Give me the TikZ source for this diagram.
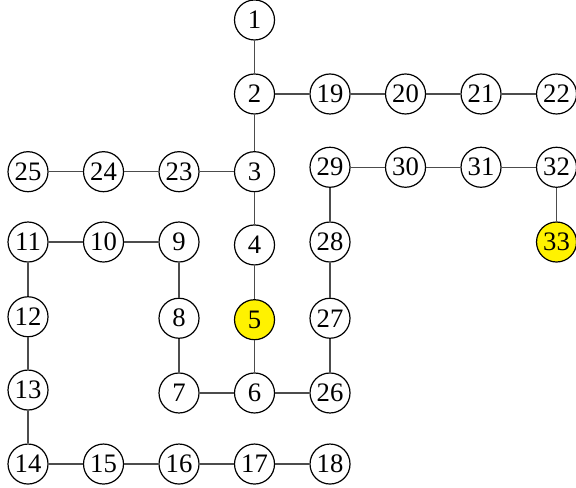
\documentclass[tikz,border=0pt]{standalone}
\usepackage{fontspec}
\setmainfont{Liberation Serif}
\usepackage{tikz}
\usetikzlibrary{calc}
\usetikzlibrary{shapes}
\newcommand{\gvertex}[4]{\node[shape=circle,draw=black,fill=#4,line width=0.45pt,inner sep=0pt,minimum size=15pt] (n#1) at ( #2 , #3 ) {#1};}
\newcommand{\gedge}[2]{\draw[black!70,line width=0.45pt] (n#1) -- (n#2);}

\begin{document}
\begin{tikzpicture}[x=28.31pt,y=-27.75pt]
\useasboundingbox (-0.371,-0.270) rectangle (7.258,6.311);
% column 3, top to bottom
\gvertex{1}{3}{0}{white}
\gvertex{2}{3}{1}{white}
\gvertex{3}{3}{2.05}{white}
\gvertex{4}{3}{3.04}{white}
\gvertex{5}{3}{4.05}{yellow}
\gvertex{6}{3}{5.04}{white}
% left loop
\gvertex{7}{2}{5.04}{white}
\gvertex{8}{2}{4.03}{white}
\gvertex{9}{2}{3}{white}
\gvertex{10}{1}{3}{white}
\gvertex{11}{0}{3}{white}
\gvertex{12}{0}{4.01}{white}
\gvertex{13}{0}{5}{white}
% bottom row
\gvertex{14}{0}{6}{white}
\gvertex{15}{1}{6}{white}
\gvertex{16}{2}{6}{white}
\gvertex{17}{3}{6}{white}
\gvertex{18}{4}{6}{white}
% row 1
\gvertex{19}{4}{1}{white}
\gvertex{20}{5}{1}{white}
\gvertex{21}{6}{1}{white}
\gvertex{22}{7}{1}{white}
% row 2, left
\gvertex{23}{2}{2.05}{white}
\gvertex{24}{1}{2.05}{white}
\gvertex{25}{0}{2.05}{white}
% right loop
\gvertex{26}{4}{5.04}{white}
\gvertex{27}{4}{4.03}{white}
\gvertex{28}{4}{3}{white}
\gvertex{29}{4}{1.99}{white}
\gvertex{30}{5}{1.99}{white}
\gvertex{31}{6}{1.99}{white}
\gvertex{32}{7}{1.99}{white}
\gvertex{33}{7}{3}{yellow}
% edges
\gedge{1}{2}
\gedge{2}{3}
\gedge{3}{4}
\gedge{4}{5}
\gedge{5}{6}
\gedge{6}{7}
\gedge{7}{8}
\gedge{8}{9}
\gedge{9}{10}
\gedge{10}{11}
\gedge{11}{12}
\gedge{12}{13}
\gedge{13}{14}
\gedge{14}{15}
\gedge{15}{16}
\gedge{16}{17}
\gedge{17}{18}
\gedge{2}{19}
\gedge{19}{20}
\gedge{20}{21}
\gedge{21}{22}
\gedge{3}{23}
\gedge{23}{24}
\gedge{24}{25}
\gedge{6}{26}
\gedge{26}{27}
\gedge{27}{28}
\gedge{28}{29}
\gedge{29}{30}
\gedge{30}{31}
\gedge{31}{32}
\gedge{32}{33}
\end{tikzpicture}
\end{document}
